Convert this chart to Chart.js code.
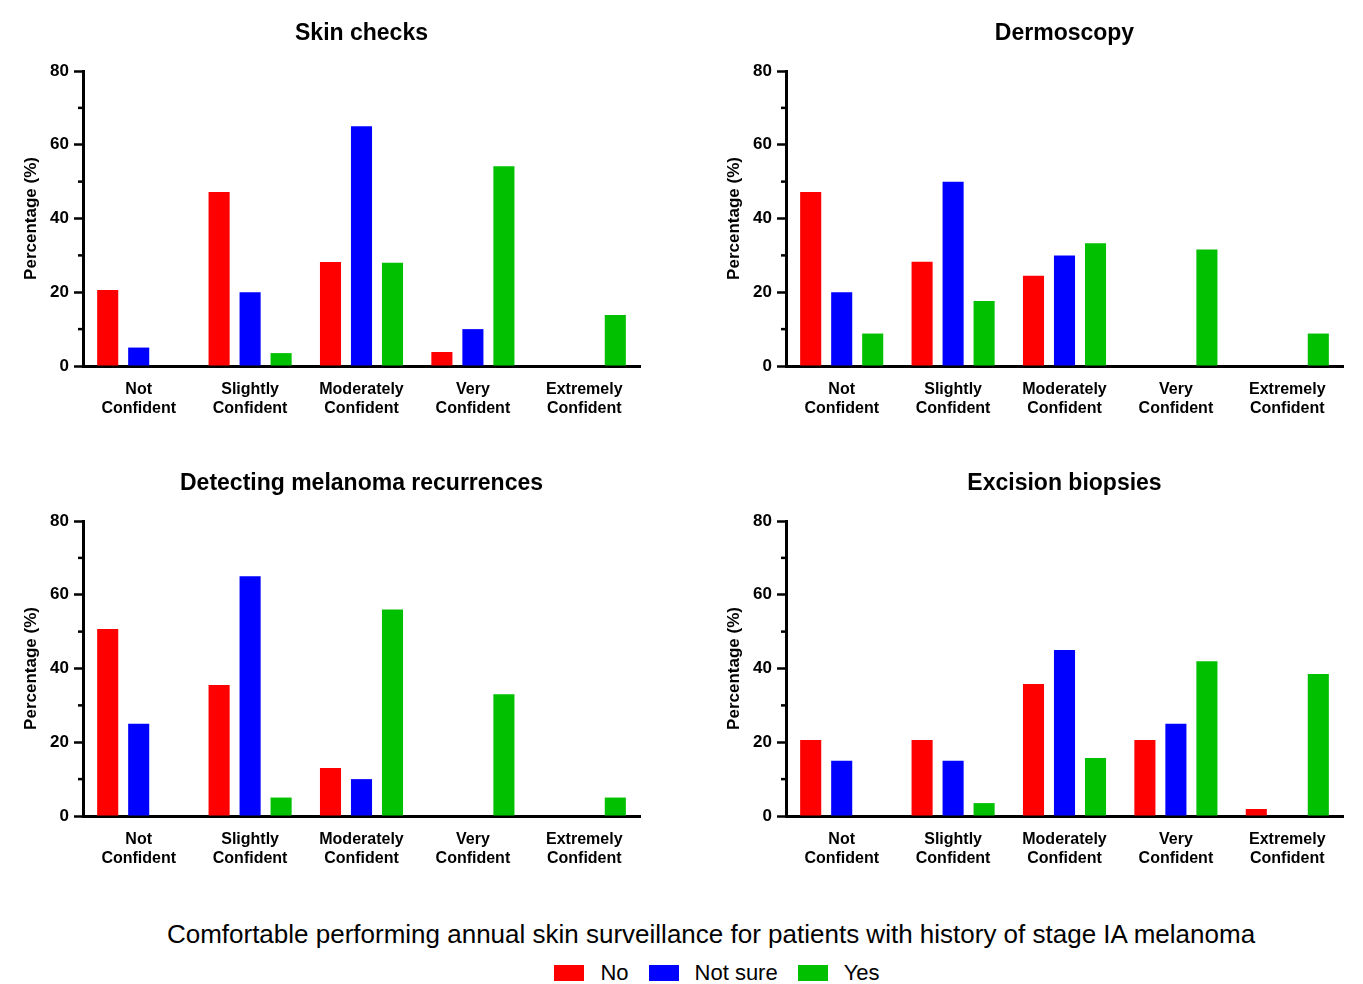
<!DOCTYPE html>
<html>
<head>
<meta charset="utf-8">
<script src="https://cdn.jsdelivr.net/npm/chart.js@4.4.0/dist/chart.umd.min.js"></script>
<style>
  body { margin: 0; background: #fff; overflow: hidden; font-family: "Liberation Sans", Arial, sans-serif; }
  #wrap { position: relative; width: 1363px; height: 984px; }
  .panel { position: absolute; }
  #caption { position: absolute; left: 0; width: 1422px; top: 919px; text-align: center; font-size: 26px; color: #000; }
  #legend { position: absolute; left: 16px; width: 1422px; top: 960px; text-align: center; font-size: 22px; color: #000; }
  #legend span.box { display: inline-block; width: 30px; height: 16px; vertical-align: -1px; margin-right: 16px; }
  #legend span.item { margin-right: 20px; }
</style>
</head>
<body>
<div id="wrap">
  <div class="panel" style="left:0;top:0;width:680px;height:440px"><canvas id="c0"></canvas></div>
  <div class="panel" style="left:703px;top:0;width:660px;height:440px"><canvas id="c1"></canvas></div>
  <div class="panel" style="left:0;top:450px;width:680px;height:440px"><canvas id="c2"></canvas></div>
  <div class="panel" style="left:703px;top:450px;width:660px;height:440px"><canvas id="c3"></canvas></div>
  <div id="caption">Comfortable performing annual skin surveillance for patients with history of stage IA melanoma</div>
  <div id="legend"></div>
</div>
<script>
const categories = [
  ["Not", "Confident"],
  ["Slightly", "Confident"],
  ["Moderately", "Confident"],
  ["Very", "Confident"],
  ["Extremely", "Confident"]
];
const seriesNames = ["No", "Not sure", "Yes"];
const seriesColors = ["#ff0000", "#0000ff", "#00c000"];
const panelTitles = ["Skin checks", "Dermoscopy", "Detecting melanoma recurrences", "Excision biopsies"];
const yTicks = [0, 20, 40, 60, 80];
const yMinorTicks = [10, 30, 50, 70];

// percentages
const skinNo = [20.6, 47.2, 28.2, 3.8, 0];
const skinNotSure = [5, 20, 65, 10, 0];
const skinYes = [0, 3.5, 28, 54.2, 13.8];

const dermNo = [47.2, 28.3, 24.5, 0, 0];
const dermNotSure = [20, 50, 30, 0, 0];
const dermYes = [8.8, 17.6, 33.3, 31.6, 8.8];

const recurNo = [50.7, 35.5, 13, 0, 0];
const recurNotSure = [25, 65, 10, 0, 0];
const recurYes = [0, 5, 56, 33, 5];

const excNo = [20.6, 20.6, 35.8, 20.6, 1.9];
const excNotSure = [15, 15, 45, 25, 0];
const excYes = [0, 3.5, 15.7, 42, 38.5];

const panels = [
  [skinNo, skinNotSure, skinYes],
  [dermNo, dermNotSure, dermYes],
  [recurNo, recurNotSure, recurYes],
  [excNo, excNotSure, excYes]
];

const FONT = "'Liberation Sans', Arial, sans-serif";

// short minor ticks on the y axis
const minorTicks = {
  id: "minorTicks",
  afterDraw(chart) {
    const y = chart.scales.y;
    const ctx = chart.ctx;
    ctx.save();
    ctx.strokeStyle = "#000";
    ctx.lineWidth = 2.5;
    yMinorTicks.forEach(v => {
      const py = y.getPixelForValue(v);
      ctx.beginPath();
      ctx.moveTo(chart.chartArea.left - 5, py);
      ctx.lineTo(chart.chartArea.left, py);
      ctx.stroke();
    });
    ctx.restore();
  }
};

panels.forEach((series, i) => {
  const ctx = document.getElementById("c" + i).getContext("2d");
  new Chart(ctx, {
    type: "bar",
    data: {
      labels: categories,
      datasets: series.map((vals, k) => ({
        label: seriesNames[k],
        data: vals,
        backgroundColor: seriesColors[k],
        borderWidth: 0,
        categoryPercentage: 0.835,
        barPercentage: 0.68
      }))
    },
    options: {
      responsive: true,
      maintainAspectRatio: false,
      animation: false,
      layout: { padding: { left: 0, right: i % 2 === 0 ? 40 : 20, top: 0, bottom: 0 } },
      plugins: {
        legend: { display: false },
        tooltip: { enabled: false },
        title: {
          display: true,
          fullSize: false,
          text: panelTitles[i],
          color: "#000",
          font: { family: FONT, size: 23, weight: "bold" },
          padding: { top: 19.5, bottom: 23.9 }
        }
      },
      scales: {
        x: {
          afterFit: s => { s.height = 74; },
          grid: { display: false, drawTicks: false },
          border: { display: true, color: "#000", width: 3 },
          ticks: {
            color: "#000",
            padding: 14,
            font: { family: FONT, size: 16, weight: "bold" },
            maxRotation: 0
          }
        },
        y: {
          min: 0,
          max: 80,
          afterFit: s => { s.width = 83; },
          afterBuildTicks: s => { s.ticks = yTicks.map(v => ({ value: v })); },
          grid: { drawOnChartArea: false, drawTicks: true, tickLength: 9, tickWidth: 2.5, tickColor: "#000" },
          border: { display: true, color: "#000", width: 3 },
          ticks: {
            color: "#000",
            padding: 5,
            font: { family: FONT, size: 17, weight: "bold" }
          },
          title: {
            display: true,
            text: "Percentage (%)",
            color: "#000",
            font: { family: FONT, size: 17, weight: "bold" },
            padding: { top: 21, bottom: 0 }
          }
        }
      }
    },
    plugins: [minorTicks]
  });
});

// shared legend
const legend = document.getElementById("legend");
seriesNames.forEach((name, k) => {
  const box = document.createElement("span");
  box.className = "box";
  box.style.background = seriesColors[k];
  const txt = document.createElement("span");
  txt.className = "item";
  txt.textContent = name;
  legend.appendChild(box);
  legend.appendChild(txt);
});
</script>
</body>
</html>
